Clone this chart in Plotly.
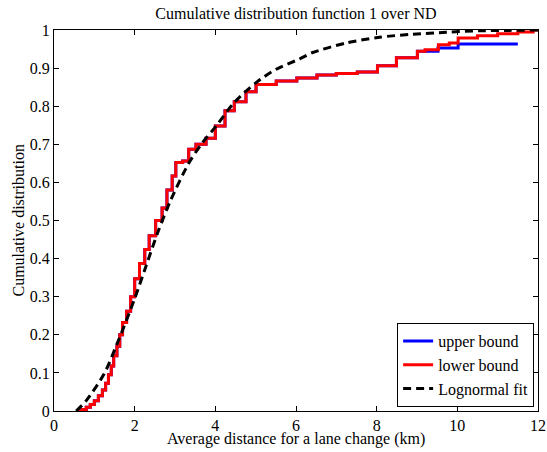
import plotly.graph_objects as go

# Empirical CDF, lower bound (step jump positions and levels after each jump)
lower_x = [0.58, 0.70, 0.80, 0.90, 1.00, 1.10, 1.20, 1.28, 1.35, 1.42, 1.48, 1.56,
           1.63, 1.70, 1.80, 1.90, 2.00, 2.12, 2.25, 2.36, 2.52, 2.68, 2.80, 2.93,
           3.02, 3.19, 3.34, 3.52, 3.77, 4.00, 4.24, 4.47, 4.76, 5.01, 5.51, 6.02,
           6.52, 7.00, 7.52, 8.02, 8.49, 9.01, 9.20, 9.53, 9.80, 10.02, 10.50, 11.00,
           11.50, 11.88, 12.00]
lower_y = [0.000, 0.004, 0.010, 0.017, 0.027, 0.040, 0.055, 0.073, 0.095, 0.118, 0.145, 0.170,
           0.200, 0.232, 0.262, 0.300, 0.347, 0.387, 0.424, 0.460, 0.500, 0.533, 0.580, 0.617,
           0.652, 0.656, 0.687, 0.700, 0.716, 0.748, 0.788, 0.812, 0.838, 0.857, 0.866, 0.874,
           0.882, 0.886, 0.890, 0.906, 0.927, 0.944, 0.948, 0.961, 0.966, 0.979, 0.985, 0.990,
           0.995, 1.000, 1.000]

# Upper bound: identical to lower bound up to x≈9, then its own tail
upper_x = lower_x[:42] + [9.52, 10.02, 11.50]
upper_y = lower_y[:42] + [0.953, 0.963, 0.963]

# Lognormal fit
fit_x = [0.55, 0.79, 1.24, 1.57, 1.99, 2.28, 2.57, 2.90, 3.35, 3.68, 4.02, 4.47,
         5.01, 5.51, 6.09, 6.42, 7.25, 8.07, 8.90, 9.73, 10.56, 11.30, 12.00]
fit_y = [0.000, 0.026, 0.097, 0.178, 0.292, 0.380, 0.468, 0.555, 0.652, 0.704, 0.748, 0.810,
         0.862, 0.897, 0.924, 0.941, 0.966, 0.981, 0.989, 0.994, 0.998, 0.999, 1.000]

x_ticks = [0, 2, 4, 6, 8, 10, 12]
y_ticks = [0, 0.1, 0.2, 0.3, 0.4, 0.5, 0.6, 0.7, 0.8, 0.9, 1]
y_tick_text = ["0", "0.1", "0.2", "0.3", "0.4", "0.5", "0.6", "0.7", "0.8", "0.9", "1"]

FONT = "Liberation Serif"
FS = 16
W, H = 547, 452
ML, MR, MT, MB = 54, 9, 30, 41

fig = go.Figure()
fig.add_trace(go.Scatter(x=upper_x, y=upper_y, mode="lines", name="upper bound",
                         line=dict(color="#0000ff", width=3, shape="hv")))
fig.add_trace(go.Scatter(x=lower_x, y=lower_y, mode="lines", name="lower bound",
                         line=dict(color="#ff0000", width=3, shape="hv")))
fig.add_trace(go.Scatter(x=fit_x, y=fit_y, mode="lines", name="Lognormal fit",
                         line=dict(color="black", width=3, dash="8px,5px",
                                   shape="spline", smoothing=0.8)))

axis_common = dict(showline=True, linecolor="black", linewidth=1, mirror="ticks",
                   ticks="inside", ticklen=5, tickcolor="black", showgrid=False,
                   zeroline=False, automargin=False,
                   tickfont=dict(family=FONT, size=FS, color="black"))

pw = W - ML - MR
ph = H - MT - MB

fig.update_layout(
    width=W, height=H,
    margin=dict(l=ML, r=MR, t=MT, b=MB, autoexpand=False),
    paper_bgcolor="white", plot_bgcolor="white",
    font=dict(family=FONT, size=FS, color="black"),
    title=dict(text="Cumulative distribution function 1 over ND", x=0.5, xref="paper",
               y=1 - 13 / H, yref="container", yanchor="middle",
               font=dict(family=FONT, size=FS)),
    xaxis=dict(range=[0, 12], tickvals=x_ticks, ticktext=[str(t) for t in x_ticks],
               **axis_common),
    yaxis=dict(range=[0, 1], tickvals=y_ticks, ticktext=y_tick_text, **axis_common),
    legend=dict(x=0.992, y=0.0105, xanchor="right", yanchor="bottom",
                bgcolor="white", bordercolor="black", borderwidth=1,
                font=dict(family=FONT, size=FS), itemwidth=30,
                tracegroupgap=0),
    showlegend=True,
    annotations=[
        dict(text="Average distance for a lane change (km)", xref="paper", yref="paper",
             x=0.5, y=-(439 - (H - MB)) / ph, xanchor="center", yanchor="middle",
             showarrow=False, font=dict(family=FONT, size=FS)),
        dict(text="Cumulative distribution", xref="paper", yref="paper",
             x=-(ML - 18) / pw, y=0.5, xanchor="center", yanchor="middle",
             textangle=-90, showarrow=False, font=dict(family=FONT, size=FS)),
    ],
)

fig.write_html("out.html", config={"displayModeBar": False},
               post_script="document.body.style.margin='0';document.body.style.padding='0';")
